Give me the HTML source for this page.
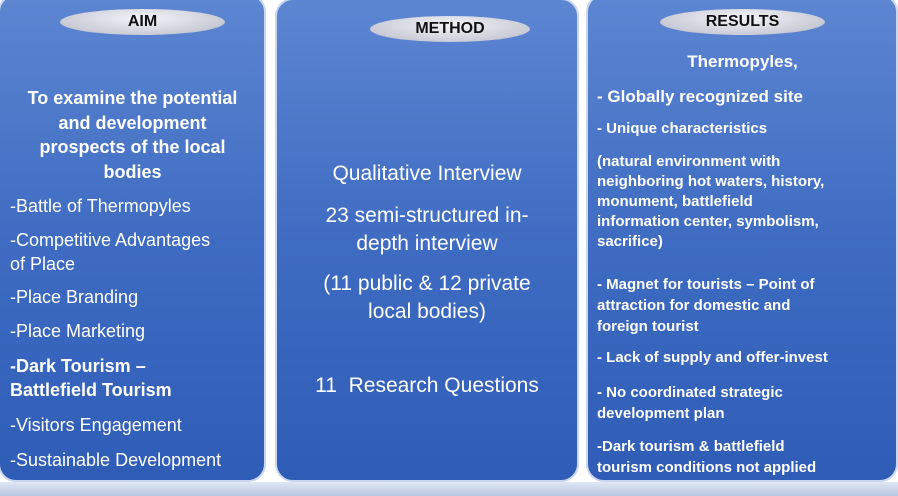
<!DOCTYPE html>
<html><head><style>
body{margin:0;width:898px;height:496px;background:#fff;position:relative;overflow:hidden;font-family:"Liberation Sans",sans-serif;}
.p{position:absolute;border-radius:18px;background:linear-gradient(#5d86d2,#3f6cc2 50%,#2f5cb6);border:2px solid #c9d6ee;box-sizing:border-box;}
.pill{position:absolute;height:26px;border-radius:50%;background:radial-gradient(ellipse at 50% 35%,#f4f4f8,#c9cbd6 70%,#a8acbc);text-align:center;font-weight:bold;color:#111;font-size:16px;line-height:26px;}
.t{position:absolute;color:#fff;white-space:nowrap;}
.strip{position:absolute;left:0;top:482px;width:898px;height:14px;background:linear-gradient(#dfe7f5,#b8c6e2);}
</style></head><body>
<div class="strip"></div>
<div class="p" style="left:-2px;top:-6px;width:268px;height:488px"></div>
<div class="p" style="left:275px;top:-2px;width:304px;height:484px"></div>
<div class="p" style="left:586px;top:-6px;width:312px;height:488px"></div>
<div class="pill" style="left:60px;top:9px;width:165px">AIM</div>
<div class="pill" style="left:370px;top:16px;width:160px">METHOD</div>
<div class="pill" style="left:660px;top:9px;width:165px">RESULTS</div>

<div class="t" style="left:0;width:265px;top:86px;font-size:18px;line-height:24.5px;text-align:center;font-weight:bold">To examine the potential<br>and development<br>prospects of the local<br>bodies</div>
<div class="t" style="left:10px;top:194px;font-size:18px;line-height:24px">-Battle of Thermopyles</div>
<div class="t" style="left:10px;top:228px;font-size:18px;line-height:24px">-Competitive Advantages<br>of Place</div>
<div class="t" style="left:10px;top:287px;font-size:18px">-Place Branding</div>
<div class="t" style="left:10px;top:321px;font-size:18px">-Place Marketing</div>
<div class="t" style="left:10px;top:354px;font-size:18px;font-weight:bold;line-height:24px">-Dark Tourism –<br>Battlefield Tourism</div>
<div class="t" style="left:10px;top:415px;font-size:18px">-Visitors Engagement</div>
<div class="t" style="left:10px;top:450px;font-size:18px">-Sustainable Development</div>

<div class="t" style="left:276px;width:302px;text-align:center;top:158px;font-size:21px;line-height:32px">Qualitative Interview</div>
<div class="t" style="left:276px;width:302px;text-align:center;top:202px;font-size:21px;line-height:28px">23 semi-structured in-<br>depth interview</div>
<div class="t" style="left:276px;width:302px;text-align:center;top:270px;font-size:21px;line-height:28px">(11 public &amp; 12 private<br>local bodies)</div>
<div class="t" style="left:276px;width:302px;text-align:center;top:372px;font-size:21px;line-height:28px">11&nbsp; Research Questions</div>

<div class="t" style="left:587px;width:311px;text-align:center;top:52px;font-size:17px;font-weight:bold">Thermopyles,</div>
<div class="t" style="left:597px;top:87px;font-size:17px;font-weight:bold">- Globally recognized site</div>
<div class="t" style="left:597px;top:120px;font-size:15px;font-weight:bold">- Unique characteristics</div>
<div class="t" style="left:597px;top:152px;font-size:15px;font-weight:bold;line-height:20px">(natural environment with<br>neighboring hot waters, history,<br>monument, battlefield<br>information center, symbolism,<br>sacrifice)</div>
<div class="t" style="left:597px;top:274px;font-size:15px;font-weight:bold;line-height:21px">- Magnet for tourists – Point of<br>attraction for domestic and<br>foreign tourist</div>
<div class="t" style="left:597px;top:349px;font-size:15px;font-weight:bold">- Lack of supply and offer-invest</div>
<div class="t" style="left:597px;top:382px;font-size:15px;font-weight:bold;line-height:21px">- No coordinated strategic<br>development plan</div>
<div class="t" style="left:597px;top:436px;font-size:15px;font-weight:bold;line-height:21px">-Dark tourism &amp; battlefield<br>tourism conditions not applied</div>
</body></html>
